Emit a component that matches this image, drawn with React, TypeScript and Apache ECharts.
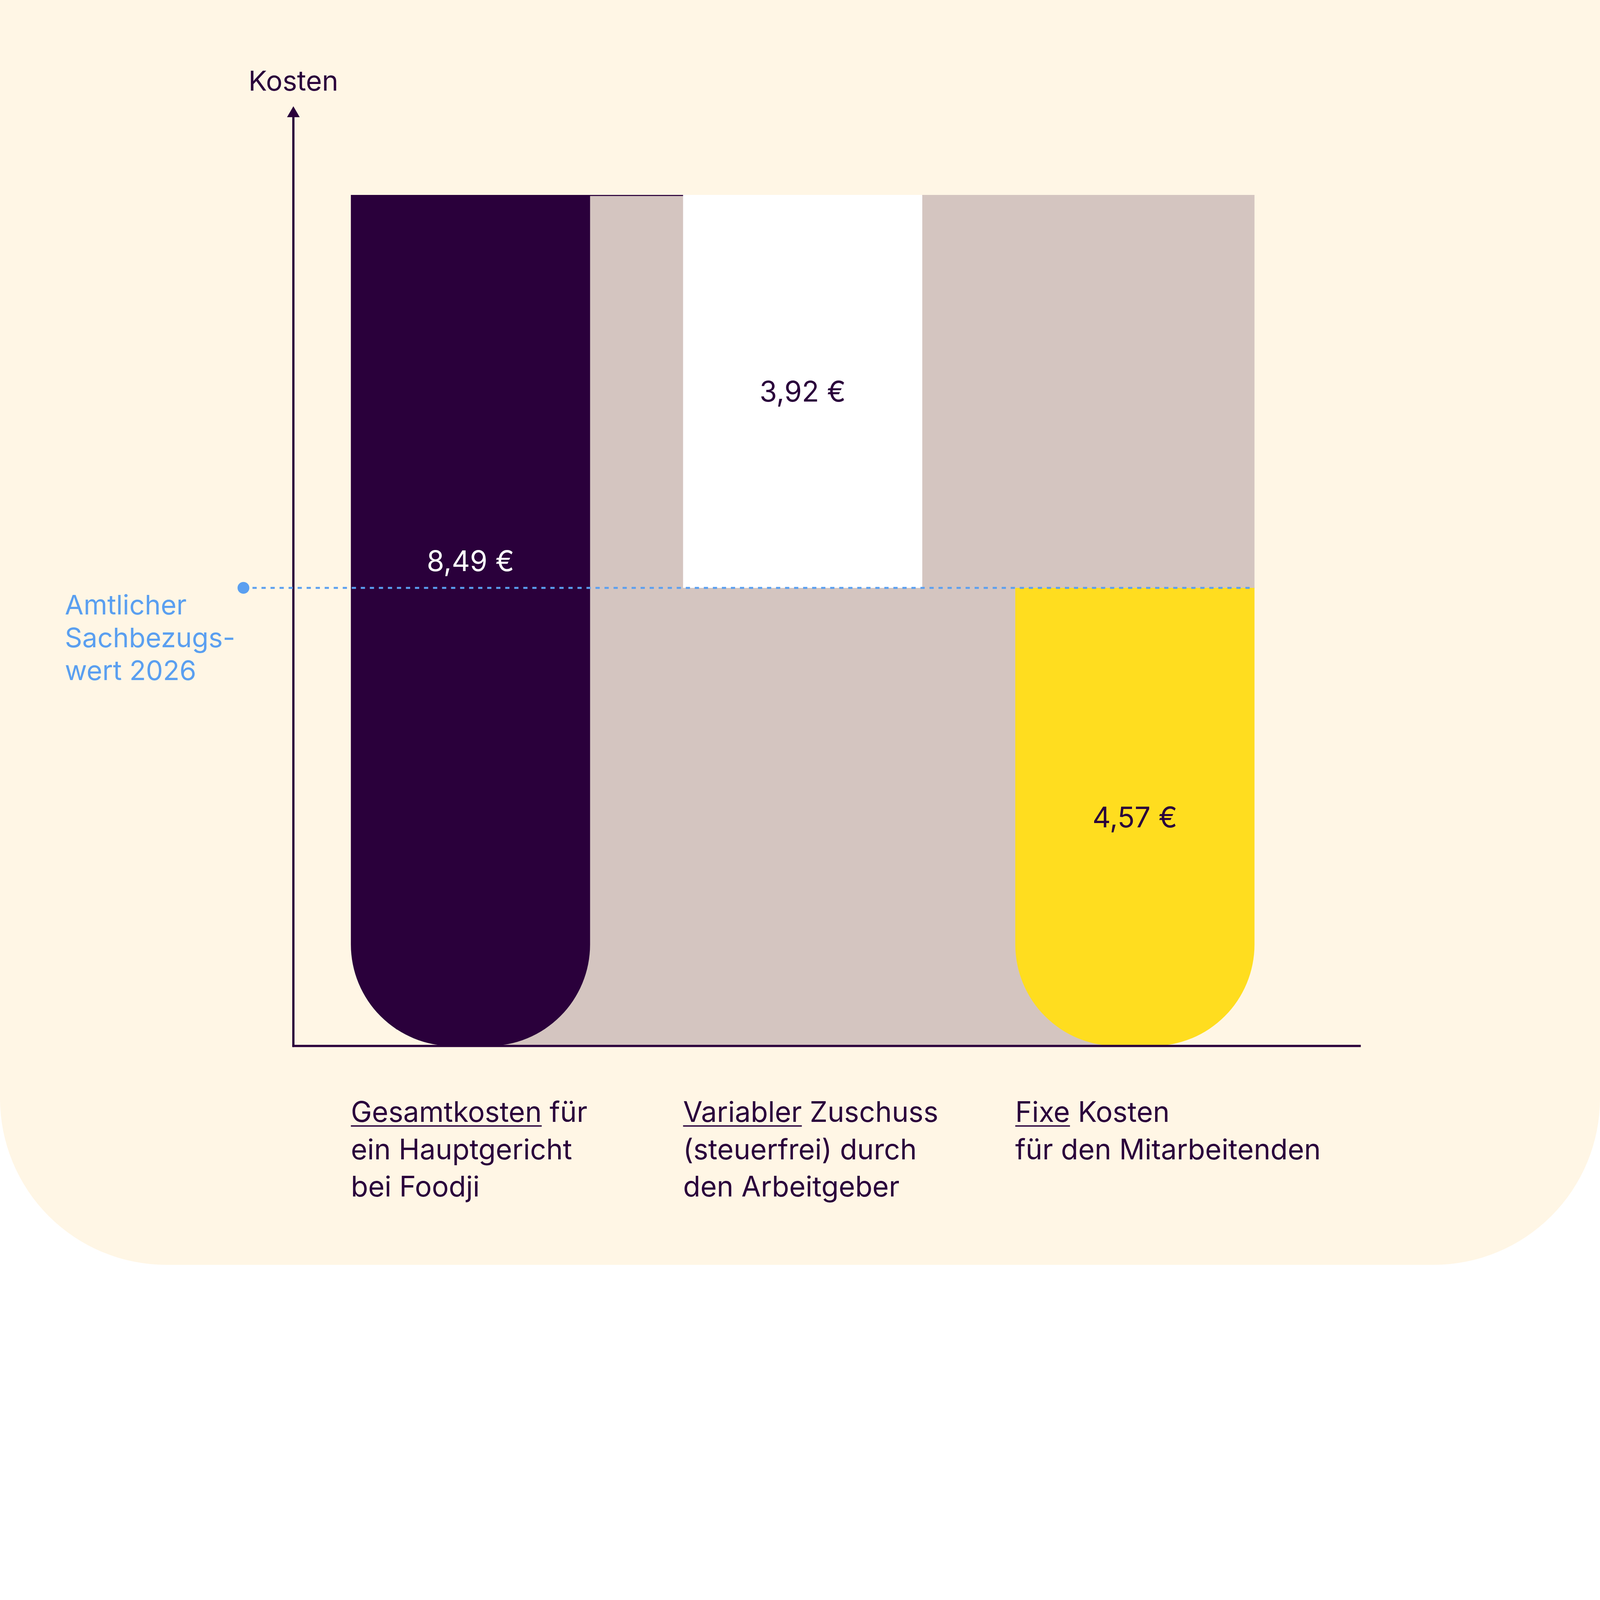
import React, { useEffect, useRef } from 'react';
import * as echarts from 'echarts';

// Kategorien (Beschriftung unter den Balken) und das jeweils unterstrichene Wort
const CATEGORIES = [
	'Gesamtkosten für\nein Hauptgericht\nbei Foodji',
	'Variabler Zuschuss\n(steuerfrei) durch\nden Arbeitgeber',
	'Fixe Kosten\nfür den Mitarbeitenden'
];
const UNDERLINED = ['Gesamtkosten', 'Variabler', 'Fixe'];

// Werte in Euro
const TOTAL = 8.49;
const VARIABLE = 3.92;
const FIXED = 4.57;
const BASE = [0, FIXED, 0];
const COSTS = [TOTAL, VARIABLE, FIXED];
const SACHBEZUG = 4.57;
const SACHBEZUG_LABEL = 'Amtlicher\nSachbezugs-\nwert 2026';

// Farben
const CREAM = '#FFF6E5';
const PURPLE = '#2A003B';
const GREY = '#D4C5C0';
const YELLOW = '#FFDD1F';
const BLUE = '#5A9FF0';
const BAR_COLORS = [PURPLE, '#FFFFFF', YELLOW];
const LABEL_COLORS = ['#FFFFFF', PURPLE, PURPLE];

const FONT = 'Inter, "Noto Sans", sans-serif';
const WEIGHT = 400;
const Y_MAX = 9.32;

// Entwurfsgröße, alles wird auf die tatsächliche Fenstergröße skaliert
const DESIGN_W = 5672;
const DESIGN_H = 4484;

const measure = (text: string, size: number) => {
	const ctx = document.createElement('canvas').getContext('2d');
	if (!ctx) return text.length * size * 0.55;
	ctx.font = `${WEIGHT} ${size}px Inter`;
	return ctx.measureText(text).width;
};

const euro = (v: number) => v.toFixed(2).replace('.', ',') + ' €';

const App: React.FC = () => {
	const chartRef = useRef<HTMLDivElement>(null);

	useEffect(() => {
		if (!chartRef.current) return;
		document.body.style.margin = '0';
		document.documentElement.style.overflow = 'hidden';
		const el = chartRef.current;
		const s = Math.min(window.innerWidth / DESIGN_W, window.innerHeight / DESIGN_H);
		const k = (v: number) => v * s;
		el.style.width = k(DESIGN_W) + 'px';
		el.style.height = k(DESIGN_H) + 'px';
		el.style.borderRadius = `0 0 ${k(590)}px ${k(590)}px`;

		const chart = echarts.init(el, null, { renderer: 'svg' });
		const barW = k(848);
		const radius = k(360);
		const fs = k(100);

		const option: any = {
			animation: false,
			backgroundColor: 'transparent',
			textStyle: { fontFamily: FONT, fontWeight: WEIGHT },
			grid: { left: k(1079), top: k(396), width: k(3533), height: k(3312) },
			xAxis: {
				type: 'category',
				data: CATEGORIES,
				axisLine: { show: false },
				axisTick: { show: false },
				axisLabel: { show: false }
			},
			yAxis: {
				type: 'value',
				min: 0,
				max: Y_MAX,
				offset: k(39),
				name: 'Kosten',
				nameLocation: 'end',
				nameGap: k(111),
				nameTextStyle: {
					fontSize: k(98),
					fontFamily: FONT,
					fontWeight: WEIGHT,
					color: PURPLE,
					align: 'center',
					verticalAlign: 'middle'
				},
				axisLine: {
					show: true,
					symbol: ['none', 'triangle'],
					symbolSize: [k(45), k(39)],
					lineStyle: { color: PURPLE, width: k(8) }
				},
				axisTick: { show: false },
				axisLabel: { show: false },
				splitLine: { show: false }
			},
			series: [
				{
					// grauer Hintergrund: oben bis zum rechten Rand, unterhalb des Sachbezugswerts bis zur Mitte von Balken 3
					type: 'custom',
					name: 'Hintergrund',
					z: 1,
					clip: false,
					silent: true,
					encode: { x: [0, 1], y: [2, 3] },
					data: [[0, 2, TOTAL, SACHBEZUG]],
					renderItem: (params: any, api: any) => {
						const tl = api.coord([api.value(0), api.value(2)]);
						const sr = api.coord([api.value(1), api.value(3)]);
						const br = api.coord([api.value(1), 0]);
						const mid = api.coord([1, api.value(2)]);
						const right = sr[0] + barW / 2;
						return {
							type: 'group',
							children: [
								{
									type: 'polygon',
									shape: {
										points: [
											[tl[0], tl[1]],
											[right, tl[1]],
											[right, sr[1]],
											[br[0], sr[1]],
											[br[0], br[1]],
											[tl[0], br[1]]
										]
									},
									style: { fill: GREY }
								},
								{
									type: 'line',
									z2: 10,
									shape: { x1: tl[0], y1: tl[1] + k(2), x2: mid[0] + barW / 2, y2: tl[1] + k(2) },
									style: { stroke: PURPLE, lineWidth: k(4) }
								}
							]
						};
					}
				},
				{
					type: 'bar',
					name: 'Basis',
					stack: 'kosten',
					z: 2,
					barWidth: barW,
					silent: true,
					itemStyle: { color: 'transparent' },
					data: BASE
				},
				{
					type: 'bar',
					name: 'Kosten',
					stack: 'kosten',
					z: 3,
					barWidth: barW,
					data: COSTS.map((v, i) => ({
						value: v,
						itemStyle: {
							color: BAR_COLORS[i],
							borderRadius: i === 1 ? 0 : [0, 0, radius, radius]
						},
						label: {
							show: true,
							position: i === 0 ? ['50%', '43%'] : 'inside',
							align: 'center',
							verticalAlign: 'middle',
							color: LABEL_COLORS[i],
							fontSize: fs,
							fontFamily: FONT,
							fontWeight: WEIGHT,
							formatter: () => euro(v)
						}
					}))
				},
				{
					// Sachbezugswert: gestrichelte Linie mit Punkt und Beschriftung
					type: 'custom',
					name: 'Sachbezug',
					z: 6,
					clip: false,
					silent: true,
					encode: { x: 0, y: 1 },
					data: [[2, SACHBEZUG]],
					renderItem: (params: any, api: any) => {
						const end = api.coord([api.value(0), api.value(1)]);
						const y = end[1];
						const x0 = params.coordSys.x - k(216);
						return {
							type: 'group',
							children: [
								{
									type: 'line',
									shape: { x1: x0, y1: y, x2: end[0] + barW / 2, y2: y },
									style: { stroke: BLUE, lineWidth: k(7), lineDash: [k(15), k(17)] }
								},
								{ type: 'circle', shape: { cx: x0, cy: y, r: k(21) }, style: { fill: BLUE } },
								{
									type: 'text',
									x: params.coordSys.x - k(849),
									y: y + k(2),
									style: {
										text: SACHBEZUG_LABEL,
										fill: BLUE,
										fontSize: k(96),
										fontFamily: FONT,
										fontWeight: WEIGHT,
										align: 'left',
										verticalAlign: 'top',
										lineHeight: k(116)
									}
								}
							]
						};
					}
				},
				{
					// x-Achse
					type: 'custom',
					name: 'Achse',
					z: 6,
					clip: false,
					silent: true,
					encode: { x: 0, y: 1 },
					data: [[0, 0]],
					renderItem: (params: any, api: any) => {
						const p = api.coord([api.value(0), api.value(1)]);
						const cs = params.coordSys;
						return {
							type: 'line',
							shape: { x1: cs.x - k(43), y1: p[1], x2: cs.x + cs.width + k(212), y2: p[1] },
							style: { stroke: PURPLE, lineWidth: k(8) }
						};
					}
				},
				{
					// Kategoriebeschriftungen mit Unterstreichung
					type: 'custom',
					name: 'Beschriftung',
					z: 6,
					clip: false,
					silent: true,
					encode: { x: 0, y: 1 },
					data: CATEGORIES.map((_, i) => [i, 0]),
					renderItem: (params: any, api: any) => {
						const idx = api.value(0);
						const p = api.coord([idx, 0]);
						const left = p[0] - barW / 2;
						const top = p[1] + k(167);
						return {
							type: 'group',
							children: [
								{
									type: 'text',
									x: left,
									y: top,
									style: {
										text: CATEGORIES[idx],
										fill: PURPLE,
										fontSize: fs,
										fontFamily: FONT,
										fontWeight: WEIGHT,
										align: 'left',
										verticalAlign: 'top',
										lineHeight: k(132)
									}
								},
								{
									type: 'rect',
									shape: { x: left, y: top + k(114), width: measure(UNDERLINED[idx], fs), height: k(5) },
									style: { fill: PURPLE }
								}
							]
						};
					}
				}
			]
		};

		chart.setOption(option);

		return () => {
			chart.dispose();
		};
	}, []);

	return <div ref={chartRef} style={{ width: DESIGN_W, height: DESIGN_H, backgroundColor: CREAM }} />;
};

export default App;
